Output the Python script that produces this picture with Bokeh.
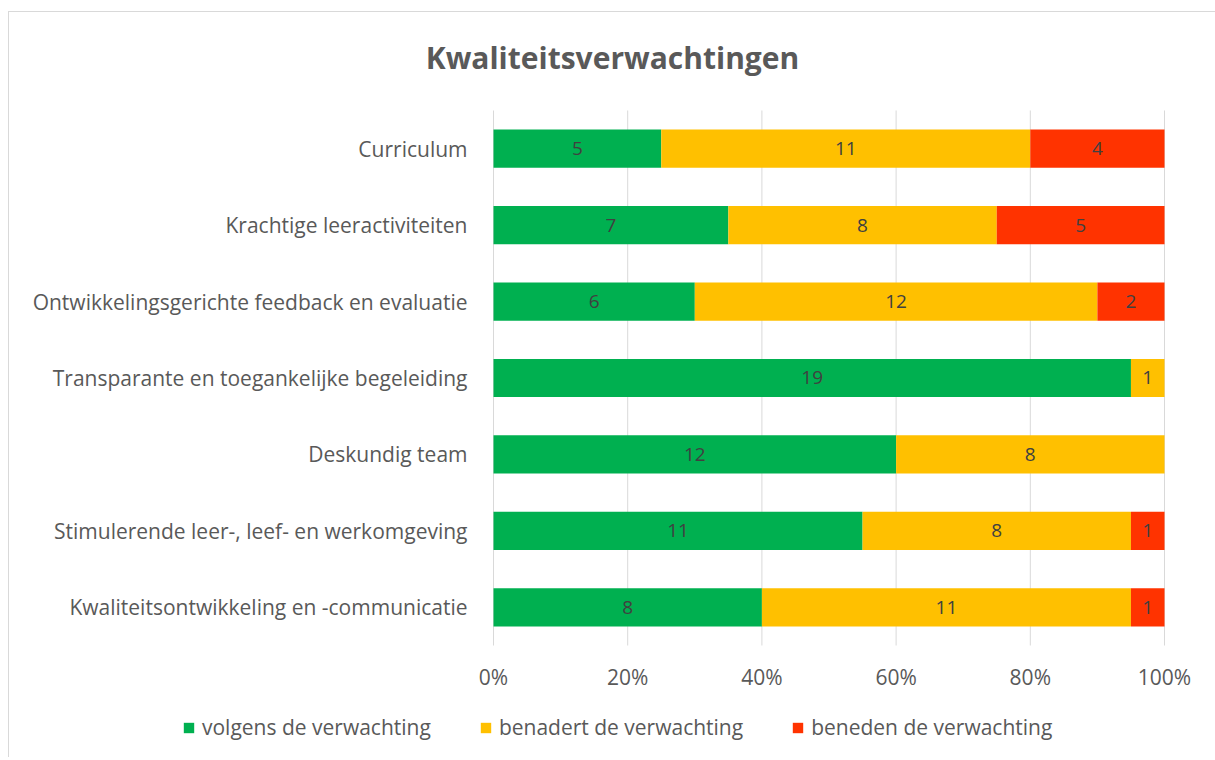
from bokeh.plotting import figure
from bokeh.models import ColumnDataSource, Legend, LegendItem, Range1d
from bokeh.core.properties import value
from bokeh.embed import file_html
from bokeh.resources import INLINE

title = "Kwaliteitsverwachtingen"
categories = [
    "Curriculum",
    "Krachtige leeractiviteiten",
    "Ontwikkelingsgerichte feedback en evaluatie",
    "Transparante en toegankelijke begeleiding",
    "Deskundig team",
    "Stimulerende leer-, leef- en werkomgeving",
    "Kwaliteitsontwikkeling en -communicatie",
]
volgens = [5, 7, 6, 19, 12, 11, 8]
benadert = [11, 8, 12, 1, 8, 8, 11]
beneden = [4, 5, 2, 0, 0, 1, 1]

series_names = ["volgens de verwachting", "benadert de verwachting", "beneden de verwachting"]
colors = ["#00B050", "#FFC000", "#FF3300"]
x_ticks = [0, 0.2, 0.4, 0.6, 0.8, 1.0]
x_tick_labels = ["0%", "20%", "40%", "60%", "80%", "100%"]

FONT = "Open Sans"
TXT = "#595959"

n = len(categories)
ypos = [n - 1 - i for i in range(n)]  # first category at the top
totals = [a + b + c for a, b, c in zip(volgens, benadert, beneden)]
f1 = [a / t for a, t in zip(volgens, totals)]
f2 = [b / t for b, t in zip(benadert, totals)]
f3 = [c / t for c, t in zip(beneden, totals)]

src = ColumnDataSource(dict(y=ypos, s1=f1, s2=f2, s3=f3))

x_start, x_end = -0.7213, 1.0760

# the frame spans the whole figure; title, labels, ticks and legend are drawn inside it
p = figure(
    title=None,
    frame_width=1206, frame_height=745,
    y_range=Range1d(-1.9654, n - 0.5 + 1.2822),
    x_range=Range1d(x_start, x_end),
    output_backend="svg", toolbar_location=None,
    min_border_left=0, min_border_right=0, min_border_top=0, min_border_bottom=0,
)
p.styles = {"margin-left": "8px", "margin-top": "11px",
            "border-left": "1px solid #d9d9d9", "border-top": "1px solid #d9d9d9"}
p.outline_line_color = None
p.xaxis.visible = False
p.yaxis.visible = False
p.grid.visible = False

# chart title
p.text(x=[(x_start + x_end) / 2], y=[n - 0.5], text=[title], y_offset=-53,
       text_align="center", text_baseline="middle",
       text_font=value(FONT), text_font_size="30px", text_font_style="bold",
       text_color=TXT)

# vertical gridlines at the percentage ticks
p.segment(x0=x_ticks, x1=x_ticks, y0=[-0.5] * len(x_ticks), y1=[n - 0.5] * len(x_ticks),
          line_color="#d9d9d9", line_width=1)

renderers = p.hbar_stack(["s1", "s2", "s3"], y="y", height=0.5, color=colors,
                         source=src, line_color=None)

# tick labels
p.text(x=x_ticks, y=[-0.5] * len(x_ticks), text=x_tick_labels, y_offset=31,
       text_align="center", text_baseline="middle",
       text_font=value(FONT), text_font_size="21px", text_color=TXT)

# category labels
p.text(x=[0] * n, y=ypos, text=categories, x_offset=-26,
       text_align="right", text_baseline="middle",
       text_font=value(FONT), text_font_size="21px", text_color=TXT)

# data labels
starts_all = [[0] * n, f1, [a + b for a, b in zip(f1, f2)]]
for vals, starts, fr in zip([volgens, benadert, beneden], starts_all, [f1, f2, f3]):
    xs, ys, ts = [], [], []
    for yy, v, s, w in zip(ypos, vals, starts, fr):
        if v > 0:
            xs.append(s + w / 2)
            ys.append(yy)
            ts.append(str(v))
    p.text(x=xs, y=ys, text=ts, text_align="center", text_baseline="middle",
           text_font=value(FONT), text_font_size="19px", text_color="#404040")

legend = Legend(
    items=[LegendItem(label=nm, renderers=[r]) for nm, r in zip(series_names, renderers)],
    orientation="horizontal",
    location=(173, 16),
    label_text_font=FONT, label_text_font_size="21px", label_text_color=TXT,
    glyph_width=13, glyph_height=13, spacing=48, label_standoff=7,
    border_line_color=None, background_fill_alpha=0, margin=0, padding=0,
)
p.add_layout(legend, "center")

open("out.html", "w").write(file_html(p, INLINE))
